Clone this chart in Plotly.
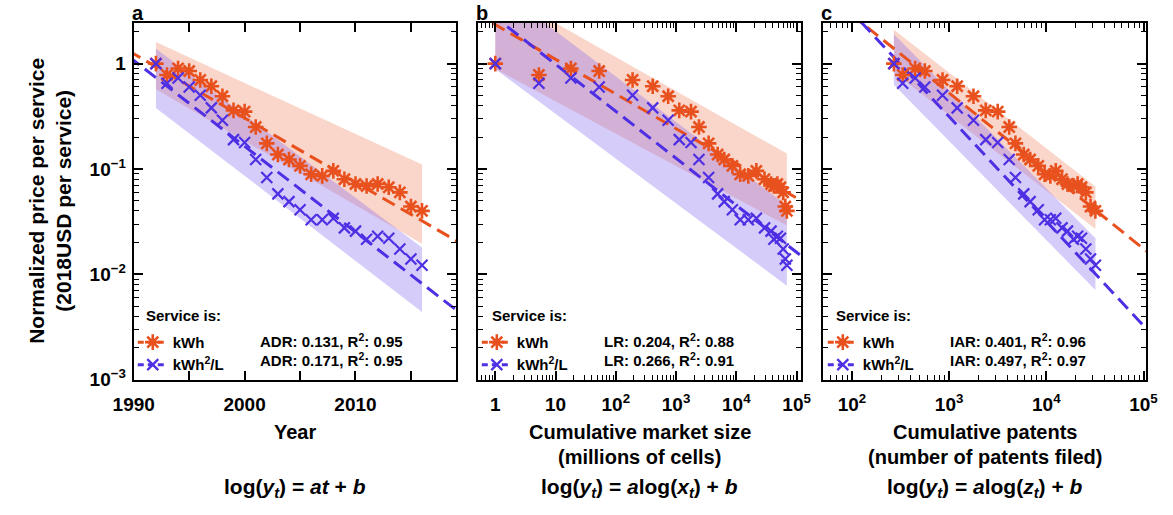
import numpy as np
import plotly.graph_objects as go

# ---------------------------------------------------------------- data
years = list(range(1992, 2017))

# normalized price per service (2018 USD per service)
price_kwh = [1.00, 0.78, 0.90, 0.85, 0.70, 0.61, 0.49, 0.36, 0.35, 0.25,
             0.175, 0.137, 0.123, 0.107, 0.089, 0.086, 0.096, 0.080, 0.072,
             0.069, 0.072, 0.067, 0.060, 0.044, 0.040]
price_kwh2l = [1.00, 0.65, 0.73, 0.60, 0.50, 0.38, 0.29, 0.19, 0.178, 0.123,
               0.083, 0.058, 0.049, 0.041, 0.033, 0.033, 0.034, 0.0276, 0.0257,
               0.0215, 0.023, 0.022, 0.0174, 0.014, 0.0122]

# cumulative market size (millions of cells)
market_size = [1, 5.3, 18, 53, 190, 410, 740, 1130, 1770, 2400, 3470, 4900,
               6300, 8600, 11600, 15800, 21500, 29400, 37700, 42000, 48000,
               54000, 60000, 65000, 69000]
# cumulative patents filed
patents = [270, 333, 447, 562, 855, 1210, 1780, 2380, 3160, 4150, 4810, 5860,
           6810, 8260, 9600, 11000, 12500, 14500, 16500, 19000, 21000, 23000,
           25500, 28500, 32000]

# fitted rates [kWh, kWh2/L] and goodness of fit
adr, adr_r2 = [0.131, 0.171], [0.95, 0.95]
lr, lr_r2 = [0.204, 0.266], [0.88, 0.91]
iar, iar_r2 = [0.401, 0.497], [0.96, 0.97]

# fitted intercepts b (log10 price)
b_year = [0.093, 0.030]      # reference year 1990
b_market = [0.37, 0.44]
b_patent = [1.94, 2.47]

# shaded ranges: x extent, upper (start, end), lower (start, end)
band_year_x = [1992, 2016]
band_year_kwh_hi, band_year_kwh_lo = [1.6, 0.11], [0.57, 0.0195]
band_year_kwh2l_hi, band_year_kwh2l_lo = [1.38, 0.018], [0.38, 0.0044]

band_market_x = [1, 69000]
band_market_kwh_hi, band_market_kwh_lo = [5.1, 0.14], [0.89, 0.029]
band_market_kwh2l_hi, band_market_kwh2l_lo = [5.5, 0.045], [0.89, 0.0078]

band_patent_x = [270, 32000]
band_patent_kwh_hi, band_patent_kwh_lo = [2.1, 0.068], [0.83, 0.027]
band_patent_kwh2l_hi, band_patent_kwh2l_lo = [1.9, 0.022], [0.63, 0.0071]

y_tickvals = [0.001, 0.01, 0.1, 1]
y_ticktext = ["10<sup>\u22123</sup>", "10<sup>\u22122</sup>", "10<sup>\u22121</sup>", "1"]
year_tickvals = [1990, 1995, 2000, 2005, 2010, 2015]
year_ticktext = ["1990", "", "2000", "", "2010", ""]
market_tickvals = [1, 10, 100, 1000, 10000, 100000]
market_ticktext = ["1", "10", "10<sup>2</sup>", "10<sup>3</sup>", "10<sup>4</sup>", "10<sup>5</sup>"]
patent_tickvals = [100, 1000, 10000, 100000]
patent_ticktext = ["10<sup>2</sup>", "10<sup>3</sup>", "10<sup>4</sup>", "10<sup>5</sup>"]

series_names = ["kWh", "kWh<sup>2</sup>/L"]

# ---------------------------------------------------------------- style
W, H = 1173, 515
FONT = "Liberation Sans, Arial, sans-serif"
ORANGE = "#E8511E"
BLUE = "#4F2FE3"
BAND = ["rgba(240,115,75,0.30)", "rgba(135,105,240,0.34)"]
COLORS = [ORANGE, BLUE]
DASH = "14px,7px"

PANEL_X = [(116, 448), (470, 803), (825, 1158)]
TOP, BOTTOM = 23, 388


def px(x):
    return x / W


def py(y):
    return 1 - y / H


def star_marker(color):
    return dict(symbol="asterisk-open", size=13, color=color,
                line=dict(width=2.6, color=color))


def cross_marker(color):
    return dict(symbol="x-thin-open", size=11, color=color,
                line=dict(width=2.2, color=color))


MARKERS = [star_marker(ORANGE), cross_marker(BLUE)]

fig = go.Figure()

panels = [
    dict(x=years, axis=("x", "y"), band_x=band_year_x,
         bands=[(band_year_kwh_hi, band_year_kwh_lo), (band_year_kwh2l_hi, band_year_kwh2l_lo)]),
    dict(x=market_size, axis=("x2", "y2"), band_x=band_market_x,
         bands=[(band_market_kwh_hi, band_market_kwh_lo), (band_market_kwh2l_hi, band_market_kwh2l_lo)]),
    dict(x=patents, axis=("x3", "y3"), band_x=band_patent_x,
         bands=[(band_patent_kwh_hi, band_patent_kwh_lo), (band_patent_kwh2l_hi, band_patent_kwh2l_lo)]),
]

# fitted curves per panel
t_line = np.array([1989.5, 2019.5])
m_line = 10 ** np.array([-0.35, 5.15])
p_line = 10 ** np.array([1.65, 5.1])
fits = [
    [(t_line, 10 ** (b_year[i] + np.log10(1 - adr[i]) * (t_line - 1990))) for i in range(2)],
    [(m_line, 10 ** (b_market[i] + np.log2(1 - lr[i]) * np.log10(m_line))) for i in range(2)],
    [(p_line, 10 ** (b_patent[i] + np.log2(1 - iar[i]) * np.log10(p_line))) for i in range(2)],
]
prices = [price_kwh, price_kwh2l]

for k, pnl in enumerate(panels):
    xa, ya = pnl["axis"]
    bx = pnl["band_x"]
    for i, (hi, lo) in enumerate(pnl["bands"]):
        fig.add_trace(go.Scatter(
            x=[bx[0], bx[1], bx[1], bx[0], bx[0]],
            y=[hi[0], hi[1], lo[1], lo[0], hi[0]],
            fill="toself", fillcolor=BAND[i], mode="none",
            hoverinfo="skip", showlegend=False, xaxis=xa, yaxis=ya))
    for i in range(2):
        fx, fy = fits[k][i]
        fig.add_trace(go.Scatter(
            x=fx, y=fy, mode="lines",
            line=dict(color=COLORS[i], width=3, dash=DASH),
            showlegend=False, xaxis=xa, yaxis=ya))
    for i in range(2):
        fig.add_trace(go.Scatter(
            x=pnl["x"], y=prices[i], mode="markers", marker=MARKERS[i],
            showlegend=False, xaxis=xa, yaxis=ya, cliponaxis=False))
    # legend entries
    lg = "legend" if k == 0 else f"legend{k + 1}"
    for i in range(2):
        fig.add_trace(go.Scatter(
            x=[None], y=[None], mode="lines+markers", name=f"<b>{series_names[i]}</b>",
            marker=MARKERS[i], line=dict(color=COLORS[i], width=3, dash="6px,4px"),
            legend=lg, xaxis=xa, yaxis=ya))

# ---------------------------------------------------------------- axes
axis_common = dict(
    showline=True, linecolor="black", linewidth=2, mirror="allticks",
    ticks="inside", ticklen=9, tickwidth=1.6, tickcolor="black",
    showgrid=False, zeroline=False,
    tickfont=dict(family=FONT, size=19, color="black", weight="bold"),
)
minor_log = dict(ticks="inside", ticklen=5, tickwidth=1.2, tickcolor="black",
                 showgrid=False, dtick="D1")

y_common = dict(axis_common, type="log", range=[-3, 0.39],
                tickmode="array", tickvals=y_tickvals, ticktext=y_ticktext,
                minor=minor_log, domain=[py(BOTTOM), py(TOP)], ticklabelstandoff=2)

fig.update_layout(
    xaxis=dict(axis_common, range=[1990, 2019.1], tickmode="array",
               tickvals=year_tickvals, ticktext=year_ticktext, ticklabelstandoff=6,
               domain=[px(PANEL_X[0][0]), px(PANEL_X[0][1])], anchor="y"),
    xaxis2=dict(axis_common, type="log", range=[-0.29, 5.08], tickmode="array",
                tickvals=market_tickvals, ticktext=market_ticktext, minor=minor_log,
                ticklabelstandoff=6,
                domain=[px(PANEL_X[1][0]), px(PANEL_X[1][1])], anchor="y2"),
    xaxis3=dict(axis_common, type="log", range=[1.70, 5.03], tickmode="array",
                tickvals=patent_tickvals, ticktext=patent_ticktext, minor=minor_log,
                ticklabelstandoff=6,
                domain=[px(PANEL_X[2][0]), px(PANEL_X[2][1])], anchor="y3"),
    yaxis=dict(y_common, anchor="x"),
    yaxis2=dict(y_common, anchor="x2", showticklabels=False),
    yaxis3=dict(y_common, anchor="x3", showticklabels=False),
)

# ---------------------------------------------------------------- legends
legend_font = dict(family=FONT, size=15, color="black")
LEG_LEFT = [115, 469, 825]
for k in range(3):
    key = "legend" if k == 0 else f"legend{k + 1}"
    fig.update_layout({key: dict(
        x=px(LEG_LEFT[k]), y=py(333), xanchor="left", yanchor="top",
        bgcolor="rgba(0,0,0,0)", borderwidth=0, font=legend_font,
        tracegroupgap=0, itemwidth=30, traceorder="normal",
    )})

# ---------------------------------------------------------------- text
ann = []


def text(x, y, s, size, xanchor="center", angle=0, yanchor="middle"):
    ann.append(dict(x=px(x), y=py(y), xref="paper", yref="paper", text=s,
                    showarrow=False, xanchor=xanchor, yanchor=yanchor,
                    textangle=angle, font=dict(family=FONT, size=size, color="black")))


TITLE_LEFT = [127, 483, 837]
for k in range(3):
    text(TITLE_LEFT[k], 322, "<b>Service is:</b>", 15, xanchor="left")

stats = [("ADR", adr, adr_r2), ("LR", lr, lr_r2), ("IAR", iar, iar_r2)]
STAT_LEFT = [244, 598, 954]
for k, (lab, rates, r2) in enumerate(stats):
    for i in range(2):
        text(STAT_LEFT[k], 348 + 19 * i,
             f"<b>{lab}: {rates[i]:.3f}, R<sup>2</sup>: {r2[i]:.2f}</b>", 15, xanchor="left")

for k, letter in enumerate(["a", "b", "c"]):
    text(PANEL_X[k][0] - 4, 13, f"<b>{letter}</b>", 20, xanchor="left")

text(29, 205, "<b>Normalized price per service<br>(2018USD per service)</b>", 21, angle=-90)

centers = [(a + b) / 2 for a, b in PANEL_X]
text(centers[0], 441, "<b>Year</b>", 20)
text(centers[1], 441, "<b>Cumulative market size</b>", 20)
text(centers[1], 467, "<b>(millions of cells)</b>", 20)
text(centers[2], 441, "<b>Cumulative patents</b>", 20)
text(centers[2], 467, "<b>(number of patents filed)</b>", 20)

text(centers[0], 499, "<b>log(<i>y</i><sub><i>t</i></sub>) = <i>at</i> + <i>b</i></b>", 21)
text(centers[1], 499, "<b>log(<i>y</i><sub><i>t</i></sub>) = <i>a</i>log(<i>x</i><sub><i>t</i></sub>) + <i>b</i></b>", 21)
text(centers[2], 499, "<b>log(<i>y</i><sub><i>t</i></sub>) = <i>a</i>log(<i>z</i><sub><i>t</i></sub>) + <i>b</i></b>", 21)

fig.update_layout(
    annotations=ann,
    width=W, height=H,
    margin=dict(l=0, r=0, t=0, b=0),
    paper_bgcolor="white", plot_bgcolor="white",
    font=dict(family=FONT, color="black"),
)

fig.write_html("out.html")
